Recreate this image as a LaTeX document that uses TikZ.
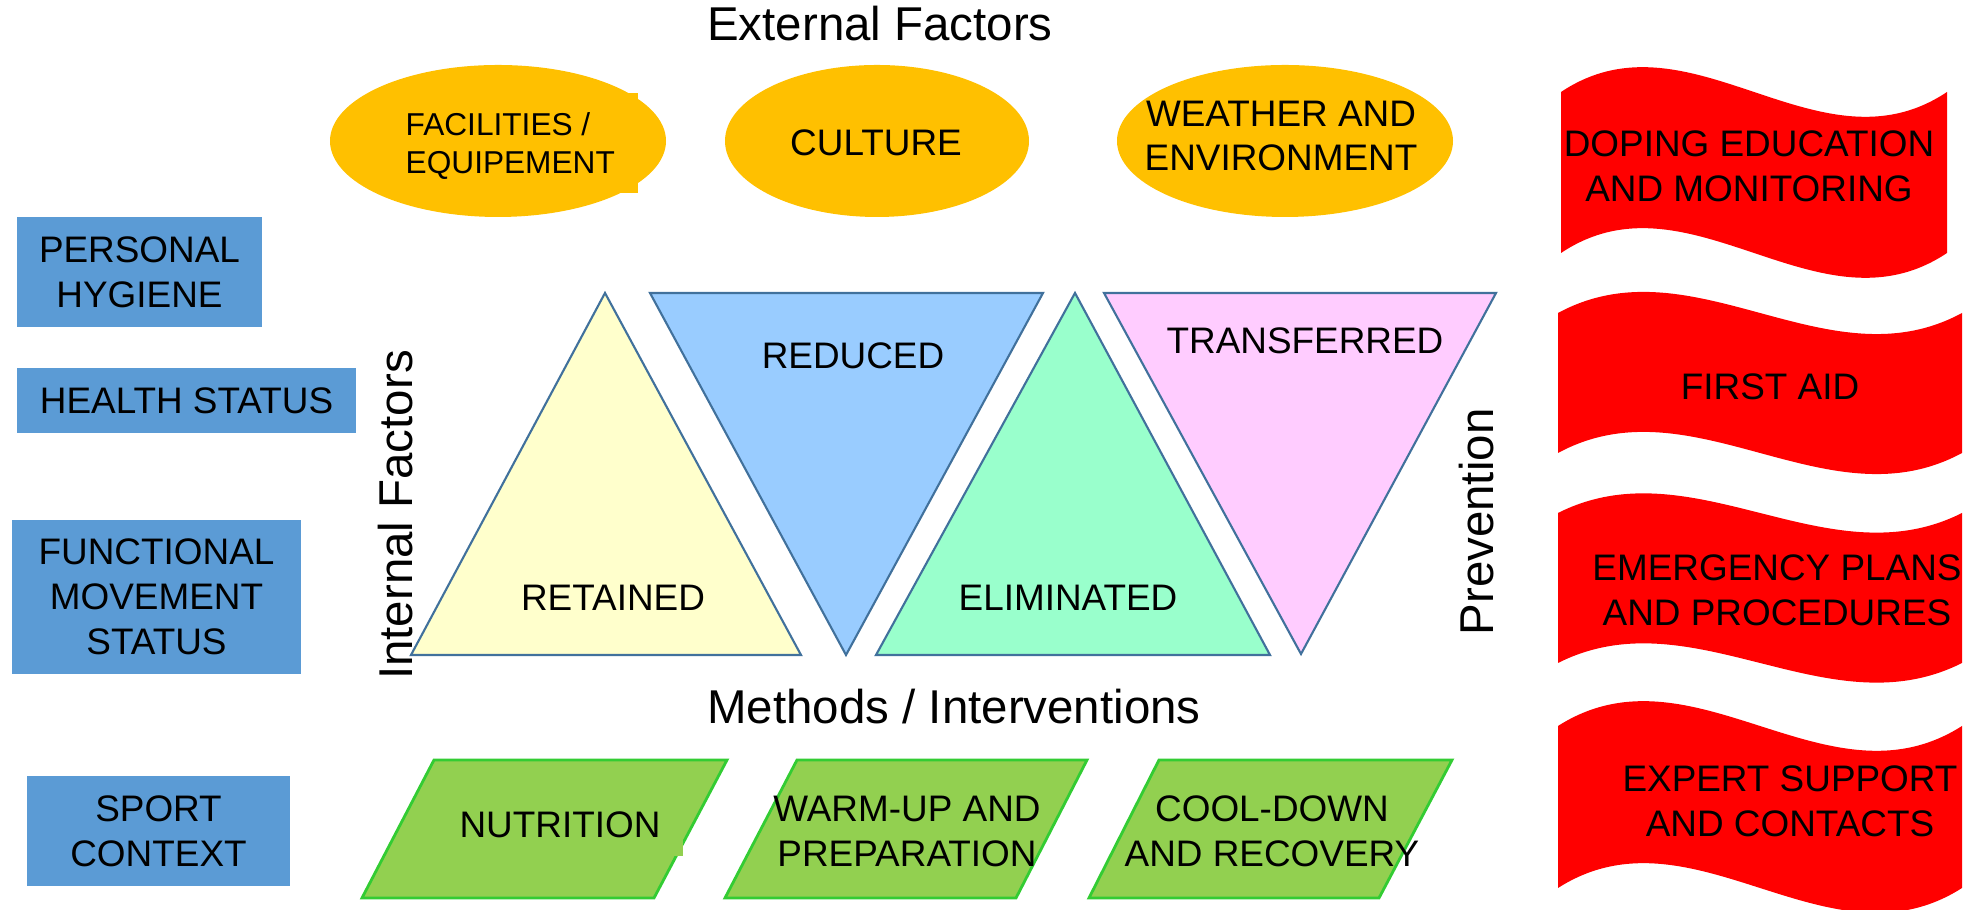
\documentclass[tikz,border=0pt]{standalone}
\usepackage{fontspec}
\setmainfont{Liberation Sans}
\usetikzlibrary{positioning}

\definecolor{extorange}{HTML}{FFC000}
\definecolor{intblue}{HTML}{5B9BD5}
\definecolor{triedge}{HTML}{41719C}
\definecolor{retyellow}{HTML}{FFFFCC}
\definecolor{redblue}{HTML}{99CCFF}
\definecolor{elimgreen}{HTML}{99FFCC}
\definecolor{transpink}{HTML}{FFCCFF}
\definecolor{methfill}{HTML}{92D050}
\definecolor{methedge}{HTML}{33CC33}
\definecolor{prevred}{HTML}{FF0000}

\begin{document}
\begin{tikzpicture}[
  body/.style={font=\fontsize{10.5}{12.8}\selectfont, align=center, inner sep=0pt},
  heading/.style={font=\fontsize{13.5}{16}\selectfont, inner sep=0pt},
  intbox/.style={body, fill=intblue},
  tri/.style={draw=triedge, line width=0.6pt},
  meth/.style={fill=methfill, draw=methedge, line width=0.8pt}]
\useasboundingbox (0,0) rectangle (19.71,9.10);

% external factors
\node[heading, anchor=base] (external) at (8.80,8.69) {External Factors};
\fill[extorange] (4.98,7.69) ellipse [x radius=1.68, y radius=0.76];
\fill[extorange] (4.00,7.17) rectangle (6.38,8.17);
\fill[extorange] (8.77,7.69) ellipse [x radius=1.52, y radius=0.76];
\fill[extorange] (12.85,7.69) ellipse [x radius=1.68, y radius=0.76];
\node[body, font=\fontsize{9}{11}\selectfont, align=left, anchor=west] (facilities) at (4.05,7.64) {FACILITIES /\\EQUIPEMENT};
\node[body] (culture) at (8.76,7.67) {CULTURE};
\node[body] (weather) at (12.81,7.74) {WEATHER AND\\ENVIRONMENT};

% internal factors
\node[intbox, minimum width=2.45cm, minimum height=1.10cm] (hygiene) at (1.395,6.38) {PERSONAL\\HYGIENE};
\node[intbox, minimum width=3.39cm, minimum height=0.65cm] (health) at (1.865,5.095) {HEALTH STATUS};
\node[intbox, minimum width=2.89cm, minimum height=1.54cm] (movement) at (1.565,3.13) {FUNCTIONAL\\MOVEMENT\\STATUS};
\node[intbox, minimum width=2.63cm, minimum height=1.10cm] (sport) at (1.585,0.79) {SPORT\\CONTEXT};
\node[heading, anchor=base, rotate=90] (internal) at (4.12,3.95) {Internal Factors};

% risk triangles
\draw[tri, fill=retyellow] (6.05,6.17) -- (8.01,2.55) -- (4.11,2.55) -- cycle;
\draw[tri, fill=redblue] (6.50,6.17) -- (10.43,6.17) -- (8.46,2.55) -- cycle;
\draw[tri, fill=elimgreen] (10.75,6.17) -- (12.70,2.55) -- (8.76,2.55) -- cycle;
\draw[tri, fill=transpink] (11.04,6.17) -- (14.96,6.17) -- (13.01,2.56) -- cycle;
\node[body] (retained) at (6.13,3.12) {RETAINED};
\node[body] (reduced) at (8.53,5.54) {REDUCED};
\node[body] (eliminated) at (10.68,3.12) {ELIMINATED};
\node[body] (transferred) at (13.05,5.69) {TRANSFERRED};

% methods / interventions
\node[heading, anchor=base] (methods) at (9.54,1.86) {Methods / Interventions};
\draw[meth] (4.34,1.50) -- (7.27,1.50) -- (6.54,0.12) -- (3.62,0.12) -- cycle;
\fill[methfill] (4.50,0.54) rectangle (6.83,1.10);
\draw[meth] (7.97,1.50) -- (10.87,1.50) -- (10.16,0.12) -- (7.25,0.12) -- cycle;
\draw[meth] (11.59,1.50) -- (14.52,1.50) -- (13.79,0.12) -- (10.89,0.12) -- cycle;
\node[body] (nutrition) at (5.60,0.85) {NUTRITION};
\node[body] (warmup) at (9.07,0.785) {WARM-UP AND\\PREPARATION};
\node[body] (cooldown) at (12.72,0.785) {COOL-DOWN\\AND RECOVERY};

% prevention banners
\node[heading, anchor=base, rotate=90] (prevention) at (14.93,3.88) {Prevention};
\foreach \lx/\rx/\ty/\by/\dw in {15.61/19.47/8.18/6.57/0.86, 15.58/19.62/5.97/4.57/0.73,
    15.58/19.62/3.97/2.47/0.68, 15.58/19.62/1.84/0.22/0.86}
  \fill[prevred] (\lx,\ty) .. controls ({\lx+(\rx-\lx)/3},{\ty+\dw}) and ({\lx+2*(\rx-\lx)/3},{\ty-\dw}) .. (\rx,\ty)
    -- (\rx,\by) .. controls ({\lx+2*(\rx-\lx)/3},{\by-\dw}) and ({\lx+(\rx-\lx)/3},{\by+\dw}) .. (\lx,\by) -- cycle;
\node[body] (doping) at (17.49,7.44) {DOPING EDUCATION\\AND MONITORING};
\node[body] (firstaid) at (17.70,5.23) {FIRST AID};
\node[body] (emergency) at (17.77,3.20) {EMERGENCY PLANS\\AND PROCEDURES};
\node[body] (expert) at (17.90,1.09) {EXPERT SUPPORT\\AND CONTACTS};
\end{tikzpicture}
\end{document}
